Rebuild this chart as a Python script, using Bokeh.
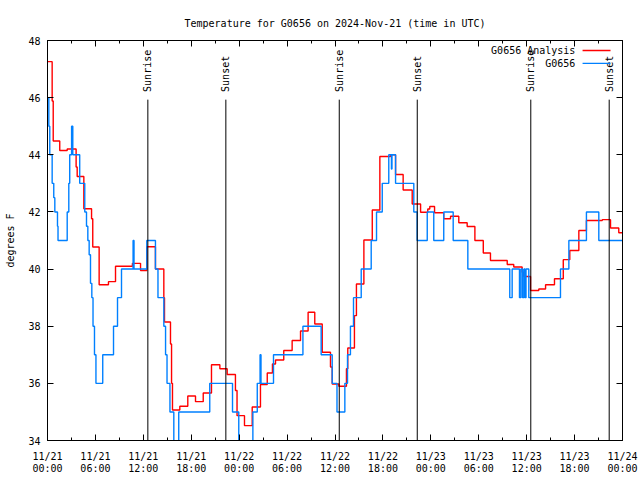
import math
import pandas as pd
from bokeh.plotting import figure
from bokeh.models import LinearAxis, FixedTicker, CustomJSTickFormatter, Range1d
from bokeh.embed import file_html
from bokeh.resources import INLINE
from bokeh.core.properties import value

FONT = "DejaVu Sans Mono"
START = pd.Timestamp("2024-11-21 00:00")

# ---------------- data ----------------
analysis_time = [
    "2024-11-21 00:00", "2024-11-21 00:35", "2024-11-21 00:43", "2024-11-21 01:32", "2024-11-21 02:28",
    "2024-11-21 03:35", "2024-11-21 03:43", "2024-11-21 04:33", "2024-11-21 05:31", "2024-11-21 05:40",
    "2024-11-21 06:28", "2024-11-21 07:38", "2024-11-21 08:31", "2024-11-21 10:38", "2024-11-21 11:39",
    "2024-11-21 12:26", "2024-11-21 13:31", "2024-11-21 14:34", "2024-11-21 14:39", "2024-11-21 15:24",
    "2024-11-21 15:32", "2024-11-21 15:39", "2024-11-21 16:34", "2024-11-21 17:34", "2024-11-21 18:32",
    "2024-11-21 19:30", "2024-11-21 20:32", "2024-11-21 21:35", "2024-11-21 22:30", "2024-11-21 23:32",
    "2024-11-21 23:44",
    "2024-11-22 00:40", "2024-11-22 01:38", "2024-11-22 02:40", "2024-11-22 03:31", "2024-11-22 04:10",
    "2024-11-22 04:33", "2024-11-22 05:35", "2024-11-22 06:38", "2024-11-22 07:41", "2024-11-22 08:38",
    "2024-11-22 09:28", "2024-11-22 10:24", "2024-11-22 11:26", "2024-11-22 11:39", "2024-11-22 12:29",
    "2024-11-22 13:26", "2024-11-22 13:36", "2024-11-22 14:26", "2024-11-22 14:41", "2024-11-22 15:37",
    "2024-11-22 16:40", "2024-11-22 17:37", "2024-11-22 18:57", "2024-11-22 19:35", "2024-11-22 20:32",
    "2024-11-22 21:40", "2024-11-22 22:43", "2024-11-22 23:37", "2024-11-22 23:52",
    "2024-11-23 00:28", "2024-11-23 01:37", "2024-11-23 02:28", "2024-11-23 03:30", "2024-11-23 04:33",
    "2024-11-23 05:31", "2024-11-23 06:34", "2024-11-23 07:28", "2024-11-23 09:34", "2024-11-23 10:23",
    "2024-11-23 11:26", "2024-11-23 11:38", "2024-11-23 12:29", "2024-11-23 13:31", "2024-11-23 14:22",
    "2024-11-23 15:29", "2024-11-23 16:35", "2024-11-23 17:24", "2024-11-23 18:32", "2024-11-23 19:29",
    "2024-11-23 21:28", "2024-11-23 22:30", "2024-11-23 23:32", "2024-11-24 00:00",
]
analysis_temp = [
    47.26, 45.88, 44.48, 44.15, 44.2, 43.57, 43.24, 42.11, 41.76, 40.77,
    39.45, 39.56, 40.1, 40.2, 39.95, 40.78, 40.0, 39.0, 38.15, 37.38,
    36.0, 35.07, 35.2, 35.56, 35.36, 35.66, 36.65, 36.51, 36.31, 35.75,
    34.87,
    34.52, 35.17, 35.96, 36.36, 36.68, 36.82, 37.15, 37.5, 37.83, 38.49,
    38.08, 37.09, 36.57, 35.98, 35.9, 36.51, 37.24, 38.37, 39.48, 41.02,
    42.07, 43.94, 44.0, 43.31, 42.77, 42.28, 41.99, 42.1, 42.19,
    41.97, 41.76, 41.85, 41.62, 41.49, 41.0, 40.56, 40.3, 40.16, 40.07,
    39.89, 39.74, 39.25, 39.3, 39.45, 39.66, 40.33, 40.65, 41.35, 41.7,
    41.73, 41.44, 41.27, 41.27,
]

obs_time = [
    "2024-11-21 00:00", "2024-11-21 00:10", "2024-11-21 00:17", "2024-11-21 00:35", "2024-11-21 00:47",
    "2024-11-21 00:55", "2024-11-21 01:15", "2024-11-21 01:19", "2024-11-21 02:28", "2024-11-21 02:40",
    "2024-11-21 02:47", "2024-11-21 03:01", "2024-11-21 03:10", "2024-11-21 04:02", "2024-11-21 04:40",
    "2024-11-21 04:53", "2024-11-21 05:03", "2024-11-21 05:13", "2024-11-21 05:23", "2024-11-21 05:33",
    "2024-11-21 05:42", "2024-11-21 05:53", "2024-11-21 06:04", "2024-11-21 06:55", "2024-11-21 08:16",
    "2024-11-21 08:46", "2024-11-21 09:16", "2024-11-21 10:43", "2024-11-21 10:50", "2024-11-21 12:26",
    "2024-11-21 13:31", "2024-11-21 13:50", "2024-11-21 14:34", "2024-11-21 14:47", "2024-11-21 14:58",
    "2024-11-21 15:20", "2024-11-21 15:49", "2024-11-21 16:26", "2024-11-21 20:19", "2024-11-21 23:10",
    "2024-11-21 23:57",
    "2024-11-22 01:43", "2024-11-22 02:16", "2024-11-22 02:37", "2024-11-22 02:44", "2024-11-22 04:18",
    "2024-11-22 07:59", "2024-11-22 10:16", "2024-11-22 11:39", "2024-11-22 12:15", "2024-11-22 13:14",
    "2024-11-22 13:34", "2024-11-22 13:56", "2024-11-22 14:19", "2024-11-22 15:17", "2024-11-22 16:32",
    "2024-11-22 17:12", "2024-11-22 17:55", "2024-11-22 18:44", "2024-11-22 19:04", "2024-11-22 19:08",
    "2024-11-22 19:35", "2024-11-22 21:52", "2024-11-22 22:17", "2024-11-22 23:33",
    "2024-11-23 00:22", "2024-11-23 01:37", "2024-11-23 02:48", "2024-11-23 04:38", "2024-11-23 09:53",
    "2024-11-23 10:11", "2024-11-23 11:06", "2024-11-23 11:17", "2024-11-23 11:29", "2024-11-23 11:40",
    "2024-11-23 11:47", "2024-11-23 11:55", "2024-11-23 12:16", "2024-11-23 16:14", "2024-11-23 17:17",
    "2024-11-23 19:29", "2024-11-23 21:02", "2024-11-24 00:00",
]
obs_temp = [
    46, 45, 44, 43, 42.5, 42, 41.5, 41, 42, 43,
    44, 45, 44, 43, 42, 41.5, 41, 40.5, 39.5, 39,
    38, 37, 36, 37, 38, 39, 40, 41, 40, 41,
    40, 39, 38, 37, 36, 35, 33, 35, 36, 35,
    33,
    35, 36, 37, 36, 37, 38, 37, 36, 35, 36,
    37, 38, 39, 40, 41, 42, 43, 44, 43.5, 44,
    43, 42, 41, 42,
    41, 42, 41, 40, 39, 40, 39, 40, 39, 40,
    39, 40, 39, 40, 41, 42, 41, 41,
]

sunrise_time = ["2024-11-21 12:34", "2024-11-22 12:32", "2024-11-23 12:31"]
sunset_time = ["2024-11-21 22:20", "2024-11-22 22:18", "2024-11-23 22:20"]

tick_hours = [0, 6, 12, 18, 24, 30, 36, 42, 48, 54, 60, 66, 72]
minor_tick_hours = [3, 9, 15, 21, 27, 33, 39, 45, 51, 57, 63, 69]
tick_dates = ["11/21", "11/21", "11/21", "11/21", "11/22", "11/22", "11/22",
              "11/22", "11/23", "11/23", "11/23", "11/23", "11/24"]
tick_times = ["00:00", "06:00", "12:00", "18:00", "00:00", "06:00", "12:00",
              "18:00", "00:00", "06:00", "12:00", "18:00", "00:00"]
y_ticks = [34, 36, 38, 40, 42, 44, 46, 48]

series_names = ["G0656 Analysis", "G0656"]
series_colors = ["#ff0000", "#0080ff"]


def hours(ts):
    return [(pd.Timestamp(t) - START).total_seconds() / 3600.0 for t in ts]


# ---------------- figure ----------------
p = figure(width=640, height=480, output_backend="svg", toolbar_location=None,
           x_range=Range1d(0, 72), y_range=Range1d(34, 48),
           min_border_left=47, min_border_right=18, min_border_top=40, min_border_bottom=40,
           title="Temperature for G0656 on 2024-Nov-21 (time in UTC)")
p.title.text_font = FONT
p.title.text_font_size = "10px"
p.title.text_font_style = "normal"
p.title.text_color = "black"
p.title.align = "center"
p.title.standoff = 23
p.grid.visible = False
p.outline_line_color = "black"
p.outline_line_width = 1
p.background_fill_color = "white"
p.border_fill_color = "white"

xt = FixedTicker(ticks=tick_hours, minor_ticks=minor_tick_hours)
xt_major = FixedTicker(ticks=tick_hours, minor_ticks=[])
yt = FixedTicker(ticks=y_ticks, minor_ticks=[])
blank = CustomJSTickFormatter(code="return '';")


def style(ax, ticker):
    ax.ticker = ticker
    ax.major_tick_in = 6
    ax.major_tick_out = 0
    ax.minor_tick_in = 3
    ax.minor_tick_out = 0
    ax.axis_line_color = "black"
    ax.major_tick_line_color = "black"
    ax.minor_tick_line_color = "black"
    ax.major_label_text_font = FONT
    ax.major_label_text_font_size = "10px"
    ax.major_label_text_color = "black"


xb = p.xaxis[0]
style(xb, xt)
xb.formatter = CustomJSTickFormatter(args=dict(labs=tick_dates),
                                     code="const i = Math.round(tick / 6); return labs[i] || '';")
xb.major_label_standoff = 10

yl = p.yaxis[0]
style(yl, yt)
yl.major_label_standoff = 7
yl.axis_label = "degrees F"
yl.axis_label_text_font = FONT
yl.axis_label_text_font_size = "10px"
yl.axis_label_text_font_style = "normal"
yl.axis_label_text_color = "black"
yl.axis_label_standoff = 9

xb2 = LinearAxis()
style(xb2, xt_major)
xb2.major_tick_in = 0
xb2.axis_line_color = None
xb2.major_tick_line_color = None
xb2.formatter = CustomJSTickFormatter(args=dict(labs=tick_times),
                                      code="const i = Math.round(tick / 6); return labs[i] || '';")
xb2.major_label_standoff = -2
p.add_layout(xb2, "below")

xa = LinearAxis()
style(xa, xt)
xa.formatter = blank
xa.major_label_standoff = 0
p.add_layout(xa, "above")

yr = LinearAxis()
style(yr, yt)
yr.formatter = blank
yr.major_label_standoff = 0
p.add_layout(yr, "right")

# ---------------- series ----------------
p.step(hours(analysis_time), analysis_temp, mode="after",
       line_color=series_colors[0], line_width=1.4)
p.step(hours(obs_time), obs_temp, mode="after",
       line_color=series_colors[1], line_width=1.4)

# ---------------- sunrise / sunset markers ----------------
LINE_TOP = 45.93
LABEL_BASE = 46.2
sun_x = hours(sunrise_time) + hours(sunset_time)
sun_lab = ["Sunrise"] * len(sunrise_time) + ["Sunset"] * len(sunset_time)
p.segment(x0=sun_x, y0=[34] * len(sun_x), x1=sun_x, y1=[LINE_TOP] * len(sun_x),
          line_color="black", line_width=1)
p.text(x=sun_x, y=[LABEL_BASE] * len(sun_x), text=sun_lab, angle=math.pi / 2,
       text_align="left", text_baseline="middle", text_font=value(FONT),
       text_font_size="10px", text_color="black")

# ---------------- legend (gnuplot style: text then sample) ----------------
LEG_TEXT_X = 66.1
LEG_LINE_X0, LEG_LINE_X1 = 67.0, 70.5
LEG_Y = [47.65, 47.2]
p.text(x=[LEG_TEXT_X] * 2, y=LEG_Y, text=series_names, text_align="right",
       text_baseline="middle", text_font=value(FONT), text_font_size="10px",
       text_color="black")
p.segment(x0=[LEG_LINE_X0] * 2, y0=LEG_Y, x1=[LEG_LINE_X1] * 2, y1=LEG_Y,
          line_color=series_colors, line_width=1.4)

open("out.html", "w").write(file_html(p, INLINE))
